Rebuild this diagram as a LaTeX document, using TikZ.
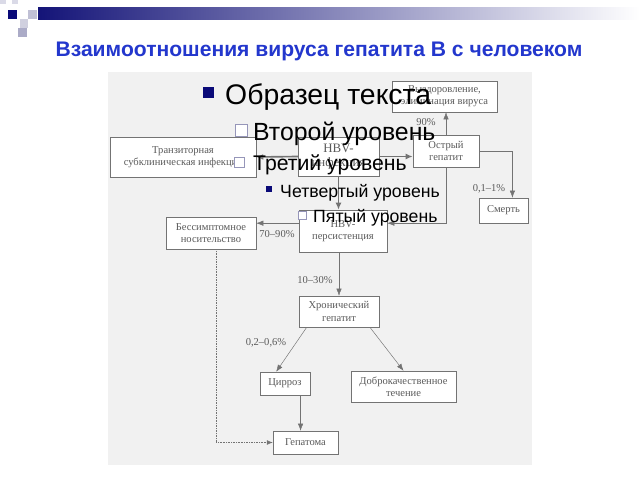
\documentclass[tikz,border=0pt]{standalone}
\usepackage{fontspec}
\setmainfont{Liberation Sans}
\newfontfamily\scanfont[Ligatures=TeX]{Liberation Serif}
\usetikzlibrary{arrows.meta}
\definecolor{titleblue}{RGB}{35,55,205}
\definecolor{bulletnavy}{RGB}{10,10,120}
\definecolor{bulletline}{RGB}{150,150,185}
\definecolor{scanline}{RGB}{115,115,115}
\definecolor{scantext}{RGB}{90,90,90}
\definecolor{scanpaper}{RGB}{241,241,241}
\definecolor{barnavy}{RGB}{20,20,120}

\begin{document}
\begin{tikzpicture}[x=0.03cm, y=-0.03cm]
        \tikzset{stage/.style = {shape=rectangle, draw=scanline, fill=white, inner sep=0pt, align=center, text=scantext, font=\scanfont\fontsize{9}{10.5}\selectfont}}
        \tikzset{lbl/.style = {text=scantext, inner sep=1pt, font=\scanfont\fontsize{9}{10.5}\selectfont}}
        \tikzset{edge/.style = {->, > = {Latex[length=6pt, width=4.5pt]}, draw = scanline}}
        \tikzset{edgethick/.style = {->, > = {Latex[length=6pt, width=5pt]}, line width = 1.4pt, draw = scanline}}
        \tikzset{edgedot/.style = {->, > = {Latex[length=5pt, width=4pt]}, densely dotted, draw = scanline}}
        \tikzset{level/.style = {anchor=base west, inner sep=0pt}}
        % slide
        \fill[white] (0,0) rectangle (640,480);
        \useasboundingbox (0,0) rectangle (640,480);
        \shade[left color = barnavy, right color = white] (38,8) rectangle (640,20);
        \fill[bulletnavy] (8,10) rectangle (17,19);
        \fill[bulletline!60] (28,10) rectangle (37,19);
        \fill[bulletline!45] (20,19) rectangle (28,28);
        \fill[bulletline!80] (18,28) rectangle (27,37);
        \fill[bulletline!35] (0,0) rectangle (6,4);
        \fill[bulletline!35] (12,0) rectangle (18,4);
        \node[text = titleblue, font = \bfseries\fontsize{18}{20}\selectfont] (title) at (319,51) {Взаимоотношения вируса гепатита В с человеком};
        \fill[scanpaper] (108,72) rectangle (532,465);

        % stages
        \node[stage, minimum width = 3.15cm, minimum height = 0.93cm] (recov) at (444.5,96.5) {Выздоровление,\\элиминация вируса};
        \node[stage, minimum width = 4.38cm, minimum height = 1.2cm] (trans) at (183,157) {Транзиторная\\субклиническая инфекция};
        \node[stage, minimum width = 2.43cm, minimum height = 1.17cm, font = \scanfont\fontsize{11}{11.5}\selectfont] (hbv) at (338.5,156.5) {HBV-\\инфекция};
        \node[stage, minimum width = 1.98cm, minimum height = 0.96cm] (acute) at (446,151) {Острый\\гепатит};
        \node[stage, minimum width = 1.47cm, minimum height = 0.75cm] (death) at (503.5,210.5) {Смерть};
        \node[stage, minimum width = 2.7cm, minimum height = 0.96cm] (carrier) at (211,233) {Бессимптомное\\носительство};
        \node[stage, minimum width = 2.64cm, minimum height = 1.26cm] (persist) at (343,231) {HBV-\\персистенция};
        \node[stage, minimum width = 2.4cm, minimum height = 0.93cm] (chronic) at (339,311.5) {Хронический\\гепатит};
        \node[stage, minimum width = 1.5cm, minimum height = 0.69cm] (cirr) at (285,383.5) {Цирроз};
        \node[stage, minimum width = 3.15cm, minimum height = 0.93cm] (benign) at (403.5,386.5) {Доброкачественное\\течение};
        \node[stage, minimum width = 1.95cm, minimum height = 0.69cm] (hepatoma) at (305.5,442.5) {Гепатома};

        % arrows
        \draw[edgethick] (hbv.west) to (trans.east);
        \draw[edgethick] (hbv.east) to (hbv.east -| acute.west);
        \draw[edgethick] (hbv.south) to (hbv.south |- persist.north);
        \draw[edge] (acute.north) to (acute.north |- recov.south);
        \draw[edge] (acute.east) -| (death.55);
        \draw[edge] (acute.south) |- (persist.10);
        \draw[edge] (persist.170) to (persist.170 -| carrier.east);
        \draw[edge] (chronic.north |- persist.south) to (chronic.north);
        \draw[edge] (chronic.206) to (cirr.127);
        \draw[edge] (chronic.-27) to (benign.north);
        \draw[edge] (cirr.-37) to (cirr.-37 |- hepatoma.north);
        \draw[edgedot] (carrier.-73) |- (hepatoma.west);

        % percentages
        \node[lbl] (p90) at (426,122) {90\%};
        \node[lbl] (p01) at (489,189) {0,1–1\%};
        \node[lbl] (p70) at (277,234) {70–90\%};
        \node[lbl] (p10) at (315,280) {10–30\%};
        \node[lbl] (p02) at (266,343) {0,2–0,6\%};

        % placeholder text on top
        \fill[bulletnavy] (203,87) rectangle (214,98);
        \node[level, font = \fontsize{24.2}{26}\selectfont] (l1) at (225,105) {Образец текста};
        \draw[bulletline, fill = white] (235,124) rectangle (247,136);
        \node[level, font = \fontsize{21.2}{23}\selectfont] (l2) at (253,141) {Второй уровень};
        \draw[bulletline, fill = white] (234,157) rectangle (244,167);
        \node[level, font = \fontsize{18.1}{20}\selectfont] (l3) at (253,171) {Третий уровень};
        \fill[bulletnavy] (266,186) rectangle (272,192);
        \node[level, font = \fontsize{15.1}{17}\selectfont] (l4) at (280,197) {Четвертый уровень};
        \draw[bulletline, fill = white] (298,211) rectangle (306,219);
        \node[level, font = \fontsize{15.1}{17}\selectfont] (l5) at (313,223) {Пятый уровень};
\end{tikzpicture}
\end{document}
